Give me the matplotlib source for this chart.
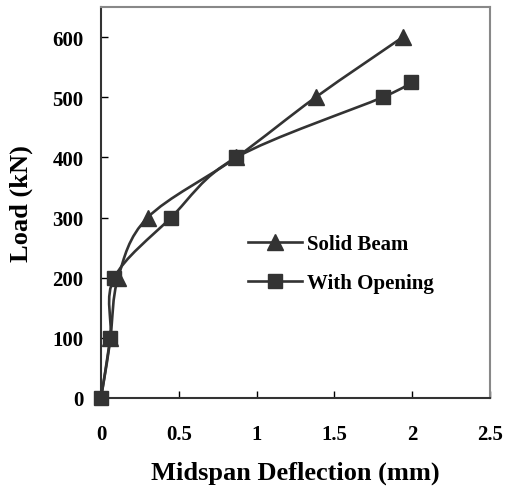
import numpy as np
import matplotlib.pyplot as plt
from matplotlib.path import Path
from matplotlib.patches import PathPatch

# Data
solid_defl = [0.0, 0.06, 0.11, 0.30, 0.87, 1.38, 1.94]
solid_load = [0, 100, 200, 300, 400, 500, 600]
open_defl = [0.0, 0.06, 0.085, 0.45, 0.87, 1.81, 1.99]
open_load = [0, 100, 200, 300, 400, 500, 525]

xticks = [0, 0.5, 1, 1.5, 2, 2.5]
xticklabels = ["0", "0.5", "1", "1.5", "2", "2.5"]
yticks = [0, 100, 200, 300, 400, 500, 600]

line_color = "#333333"


def smooth_path(ax, x, y):
    # Excel-like smoothed line: cubic Bezier segments with Catmull-Rom tangents
    pts = ax.transData.transform(np.column_stack([x, y]))
    n = len(pts)
    verts = [pts[0]]
    codes = [Path.MOVETO]
    for i in range(n - 1):
        p0 = pts[max(i - 1, 0)]
        p1 = pts[i]
        p2 = pts[i + 1]
        p3 = pts[min(i + 2, n - 1)]
        c1 = p1 + (p2 - p0) / 6.0
        c2 = p2 - (p3 - p1) / 6.0
        verts += [c1, c2, p2]
        codes += [Path.CURVE4] * 3
    path = Path(ax.transData.inverted().transform(np.array(verts)), codes)
    return PathPatch(path, facecolor="none", edgecolor=line_color, lw=1.9, zorder=2)


plt.rcParams["font.family"] = ["Liberation Serif", "DejaVu Serif"]
plt.rcParams["font.weight"] = "bold"

fig = plt.figure(figsize=(5.10, 4.89), dpi=100)
ax = fig.add_axes([101 / 510, 90 / 489, 389 / 510, 391 / 489])
ax.set_xlim(0, 2.5)
ax.set_ylim(0, 650)

ax.add_patch(smooth_path(ax, solid_defl, solid_load))
ax.add_patch(smooth_path(ax, open_defl, open_load))

ax.plot(solid_defl, solid_load, linestyle="none", marker="^", ms=11.5,
        color=line_color, zorder=3)
ax.plot(open_defl, open_load, linestyle="none", marker="s", ms=10,
        color=line_color, zorder=3, clip_on=False)

# legend entries (line + marker)
ax.plot([], [], color=line_color, lw=1.9, marker="^", ms=11.5, label="Solid Beam")
ax.plot([], [], color=line_color, lw=1.9, marker="s", ms=10, label="With Opening")
ax.legend(loc="upper left", bbox_to_anchor=(0.378, 0.419), frameon=False,
          borderpad=0, borderaxespad=0, handlelength=2.6, labelspacing=0.9,
          handletextpad=0.25, prop={"weight": "bold", "size": 15})

ax.set_xticks(xticks)
ax.set_xticklabels(xticklabels)
ax.set_yticks(yticks)
ax.tick_params(direction="in", length=5, width=1, colors="black",
               labelsize=15)
ax.tick_params(axis="x", pad=19)
ax.tick_params(axis="y", pad=12.5)

ax.spines["left"].set_color(line_color)
ax.spines["bottom"].set_color(line_color)
ax.spines["top"].set_color("#888888")
ax.spines["right"].set_color("#888888")
for s in ax.spines.values():
    s.set_linewidth(1.5)

ax.set_xlabel("Midspan Deflection (mm)", fontsize=19, fontweight="bold", labelpad=12)
ax.set_ylabel("Load (kN)", fontsize=19, fontweight="bold")
ax.yaxis.set_label_coords(-0.175, 0.5)

fig.savefig("out.png", dpi=100)
